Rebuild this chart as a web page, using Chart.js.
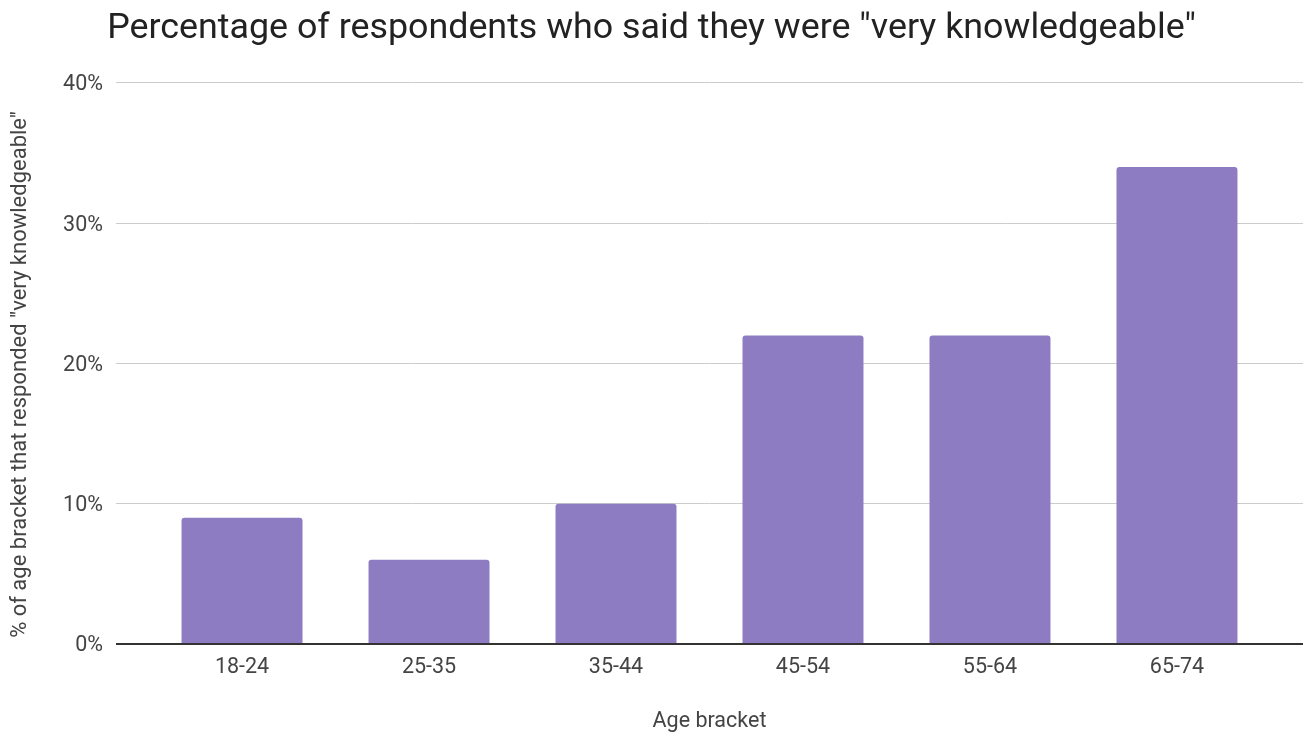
<!DOCTYPE html>
<html>
<head>
<meta charset="utf-8">
<title>Very knowledgeable respondents by age</title>
<script src="https://cdn.jsdelivr.net/npm/chart.js@4/dist/chart.umd.min.js"></script>
<style>
  html, body { margin: 0; padding: 0; background: #fff; }
  #wrap { width: 1307px; height: 732px; position: relative; }
</style>
</head>
<body>
<div id="wrap"><canvas id="chart"></canvas></div>
<script>
// Age brackets and the share (%) of each that answered "very knowledgeable"
const ageBrackets = ['18-24', '25-35', '35-44', '45-54', '55-64', '65-74'];
const veryKnowledgeablePct = [9, 6, 10, 22, 22, 34];
const yTickValues = [0, 10, 20, 30, 40];

const chartTitle = 'Percentage of respondents who said they were "very knowledgeable"';
const yAxisTitle = '% of age bracket that responded "very knowledgeable"';
const xAxisTitle = 'Age bracket';

const FONT = 'Roboto, "Noto Sans", Arial, sans-serif';

// Bars sit on a numeric x axis at indices 0..n-1 so the gridlines can run
// past the outer bars.
const points = ageBrackets.map((_, i) => ({ x: i, y: veryKnowledgeablePct[i] }));

// Vertical axis title, drawn beside the plot and set slightly below its middle.
const yTitlePlugin = {
  id: 'yTitle',
  afterDraw(chart) {
    const { ctx, chartArea } = chart;
    ctx.save();
    ctx.translate(20, (chartArea.top + chartArea.bottom) / 2 + 11);
    ctx.rotate(-Math.PI / 2);
    ctx.font = '22px ' + FONT;
    ctx.fillStyle = '#444';
    ctx.textAlign = 'center';
    ctx.textBaseline = 'middle';
    ctx.fillText(yAxisTitle, 0, 0);
    ctx.restore();
  }
};

new Chart(document.getElementById('chart'), {
  type: 'bar',
  data: {
    datasets: [{
      label: yAxisTitle,
      data: points,
      backgroundColor: '#8e7cc3',
      borderWidth: 0,
      borderRadius: 3,
      categoryPercentage: 1,
      barPercentage: 0.647
    }]
  },
  plugins: [yTitlePlugin],
  options: {
    responsive: true,
    maintainAspectRatio: false,
    animation: false,
    layout: { padding: { left: 0, right: 4, top: 0, bottom: 0 } },
    plugins: {
      legend: { display: false },
      tooltip: { enabled: false },
      title: {
        display: true,
        text: chartTitle,
        color: '#222',
        font: { family: FONT, size: 35.8, weight: 'normal', lineHeight: 1.2 },
        padding: { top: 8, bottom: 32 }
      }
    },
    scales: {
      x: {
        type: 'linear',
        offset: false,
        min: -0.674,
        max: ageBrackets.length - 1 + 0.674,
        grid: { display: false },
        border: { display: false },
        afterBuildTicks: (scale) => {
          scale.ticks = ageBrackets.map((_, i) => ({ value: i }));
        },
        afterFit: (scale) => { scale.height = 88; },
        ticks: {
          autoSkip: false,
          maxRotation: 0,
          padding: 3,
          color: '#444',
          font: { family: FONT, size: 21.5 },
          callback: (v) => ageBrackets[v]
        },
        title: {
          display: true,
          text: xAxisTitle,
          color: '#444',
          font: { family: FONT, size: 21.5 },
          padding: { top: 0, bottom: -3 }
        }
      },
      y: {
        min: 0,
        max: 40,
        afterBuildTicks: (scale) => {
          scale.ticks = yTickValues.map(v => ({ value: v }));
        },
        afterFit: (scale) => { scale.width = 116; },
        grid: {
          drawTicks: false,
          color: (ctx) => ctx.tick && ctx.tick.value === 0 ? '#333' : '#ccc',
          lineWidth: (ctx) => ctx.tick && ctx.tick.value === 0 ? 2 : 1
        },
        border: { display: false },
        ticks: {
          padding: 13,
          labelOffset: 2,
          color: '#444',
          font: { family: FONT, size: 21.5 },
          callback: (v) => v + '%'
        },
        title: { display: false }
      }
    }
  }
});
</script>
</body>
</html>
